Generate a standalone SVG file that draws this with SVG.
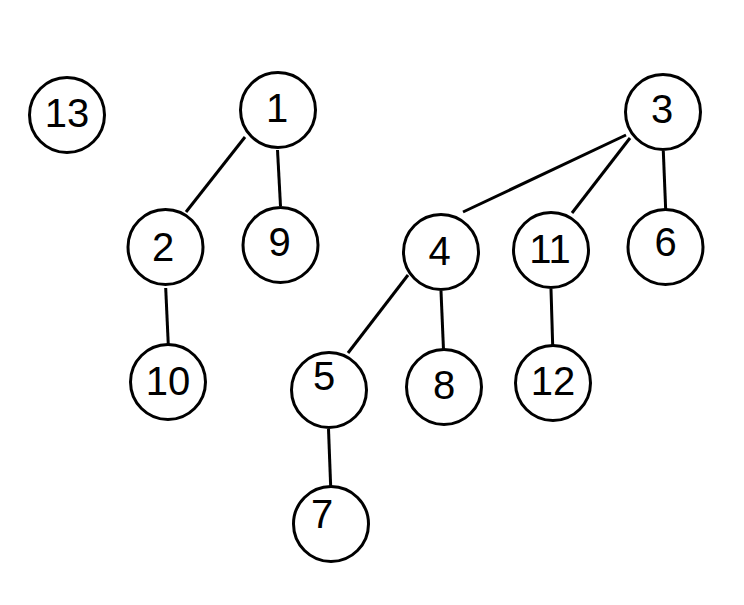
<svg xmlns="http://www.w3.org/2000/svg" width="744" height="605" viewBox="0 0 744 605">
<style>
.n circle{fill:#fff;stroke:#000;stroke-width:3}
.n text{font-family:"Liberation Sans",Arial,sans-serif;font-size:40px;text-anchor:middle;fill:#000}
#edges line{stroke:#000;stroke-width:3}
</style>
<rect width="744" height="605" fill="#fff"/>
<g id="edges">
<line x1="245" y1="137" x2="186" y2="212"/>
<line x1="277.5" y1="150" x2="280.5" y2="206"/>
<line x1="165.7" y1="288" x2="168.3" y2="345"/>
<line x1="626" y1="135" x2="463" y2="212"/>
<line x1="630" y1="138" x2="572" y2="213"/>
<line x1="663.3" y1="151" x2="665.7" y2="210"/>
<line x1="408" y1="275" x2="348" y2="353"/>
<line x1="441" y1="291" x2="443.5" y2="350"/>
<line x1="551" y1="289" x2="552.7" y2="346"/>
<line x1="328.5" y1="429" x2="330.7" y2="487"/>
</g>
<g id="n13" class="n"><circle cx="67" cy="115" r="37.5"/><text x="67" y="127">13</text></g>
<g id="n1" class="n"><circle cx="278" cy="110" r="37.5"/><text x="277" y="122">1</text></g>
<g id="n3" class="n"><circle cx="663" cy="112" r="37.5"/><text x="662" y="123">3</text></g>
<g id="n2" class="n"><circle cx="165.5" cy="247" r="37.5"/><text x="163" y="261">2</text></g>
<g id="n9" class="n"><circle cx="280.5" cy="245" r="37.5"/><text x="279.5" y="256">9</text></g>
<g id="n4" class="n"><circle cx="441" cy="252" r="37.5"/><text x="439.5" y="265">4</text></g>
<g id="n11" class="n"><circle cx="551" cy="250" r="37.5"/><text x="550" y="263">11</text></g>
<g id="n6" class="n"><circle cx="665.5" cy="247" r="37.5"/><text x="665.5" y="256">6</text></g>
<g id="n10" class="n"><circle cx="168" cy="382" r="37.5"/><text x="168" y="395">10</text></g>
<g id="n5" class="n"><circle cx="329" cy="390" r="37.5"/><text x="324" y="390">5</text></g>
<g id="n8" class="n"><circle cx="444" cy="387" r="37.5"/><text x="444" y="399">8</text></g>
<g id="n12" class="n"><circle cx="553" cy="383" r="37.5"/><text x="553" y="395">12</text></g>
<g id="n7" class="n"><circle cx="331" cy="524" r="37.5"/><text x="322" y="528">7</text></g>
</svg>
